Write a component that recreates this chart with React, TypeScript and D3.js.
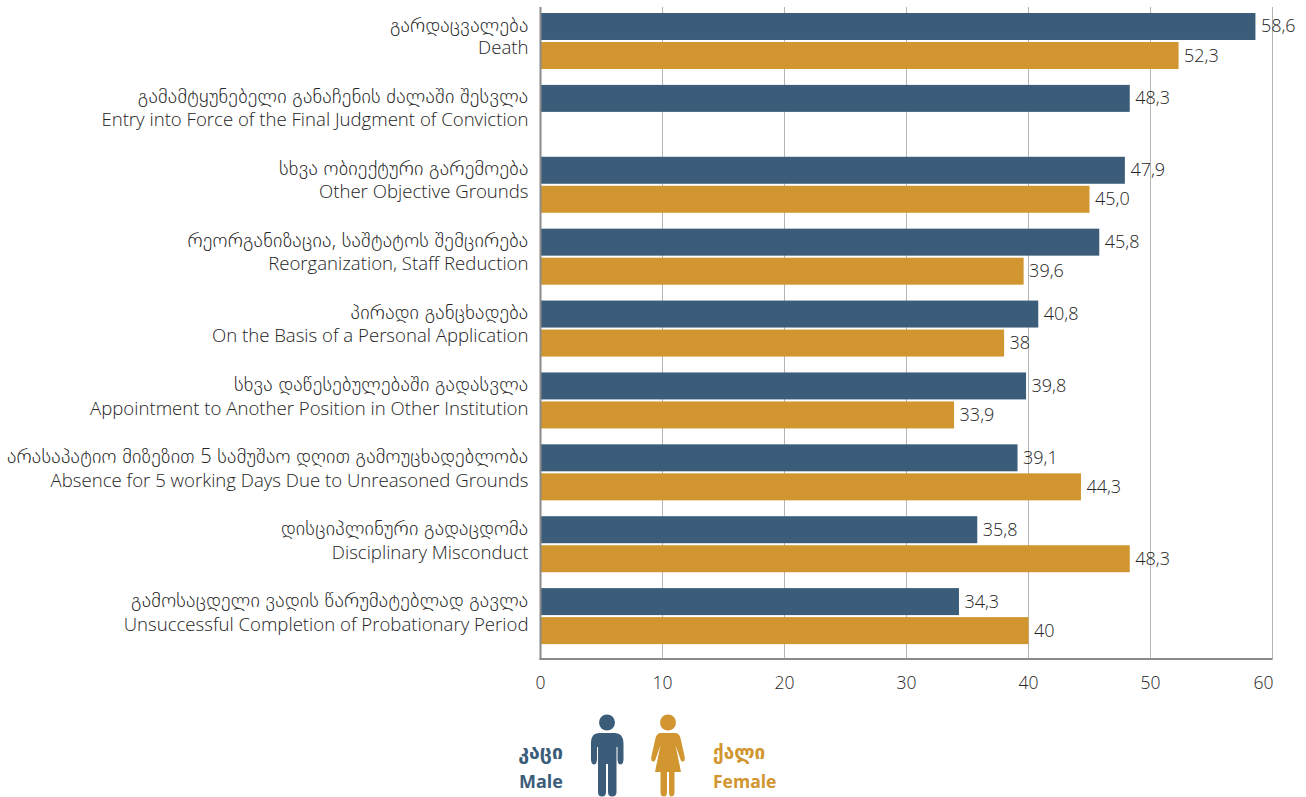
import React from "react";
import * as d3 from "d3";

const categoriesKa = ["გარდაცვალება","გამამტყუნებელი განაჩენის ძალაში შესვლა","სხვა ობიექტური გარემოება","რეორგანიზაცია, საშტატოს შემცირება","პირადი განცხადება","სხვა დაწესებულებაში გადასვლა","არასაპატიო მიზეზით 5 სამუშაო დღით გამოუცხადებლობა","დისციპლინური გადაცდომა","გამოსაცდელი ვადის წარუმატებლად გავლა"];
const categoriesEn = ["Death","Entry into Force of the Final Judgment of Conviction","Other Objective Grounds","Reorganization, Staff Reduction","On the Basis of a Personal Application","Appointment to Another Position in Other Institution","Absence for 5 working Days Due to Unreasoned Grounds","Disciplinary Misconduct","Unsuccessful Completion of Probationary Period"];
const male = [58.6,48.3,47.9,45.8,40.8,39.8,39.1,35.8,34.3];
const female: (number|null)[] = [52.3,null,45.0,39.6,38,33.9,44.3,48.3,40];
const maleLabels = ["58,6","48,3","47,9","45,8","40,8","39,8","39,1","35,8","34,3"];
const femaleLabels = ["52,3","","45,0","39,6","38","33,9","44,3","48,3","40"];
const ticks = [0,10,20,30,40,50,60];
const BLUE = "#3b5d7a", GOLD = "#d1962f", TEXT = "#242424";
const FONT = "'Open Sans','Noto Sans','DejaVu Sans',sans-serif";

export default function App() {
  const x = d3.scaleLinear().domain([0,60]).range([540.5,1272.5]);
  const y = d3.scaleBand<number>().domain(d3.range(9)).range([5,652]);
  const yLabel = d3.scaleBand<number>().domain(d3.range(9)).range([5,654]);
  const inner = d3.scaleBand<string>().domain(["m","f"]).range([8,64]).paddingInner(0.07);
  const bars = (vals:(number|null)[], labels:string[], key:string, color:string) => vals.map((v,i)=> v==null?null:(
    <g key={key+i}>
      <rect x={x(0)} y={y(i)!+inner(key)!} width={x(v)-x(0)} height={inner.bandwidth()} fill={color}/>
      <text x={x(v)+5.5} y={y(i)!+inner(key)!+inner.bandwidth()/2+6} fontSize={18} fill={TEXT} fontWeight={300}>{labels[i]}</text>
    </g>));
  return (
    <svg width={1306} height={797} style={{position:"absolute",left:0,top:0,background:"#fff"}} fontFamily={FONT}>
      {ticks.slice(1).map(t=><line key={t} x1={x(t)} x2={x(t)} y1={7} y2={659} stroke="#b5b5b5" strokeWidth={1}/>)}
      {bars(male,maleLabels,"m",BLUE)}
      {bars(female,femaleLabels,"f",GOLD)}
      <line x1={x(0)} x2={x(0)} y1={7} y2={659.5} stroke="#8a8a8a" strokeWidth={2}/>
      <line x1={x(0)-1} x2={x(60)} y1={659} y2={659} stroke="#8a8a8a" strokeWidth={2}/>
      {ticks.map(t=><text key={t} x={x(t)-(t===60?9:0)} y={689} textAnchor="middle" fontSize={17.5} fill={TEXT} fontWeight={300}>{t}</text>)}
      {categoriesKa.map((c,i)=><text key={c} x={528.5} y={y(i)!+26.5} textAnchor="end" fontSize={20} letterSpacing={0.25} fill={TEXT} fontWeight={300}>{c}</text>)}
      {categoriesEn.map((c,i)=><text key={c} x={528.5} y={yLabel(i)!+49} textAnchor="end" fontSize={18.6} fill={TEXT} fontWeight={300}>{c}</text>)}
      <g fill={BLUE} fontWeight={700} textAnchor="end">
        <text x={563} y={759} fontSize={19.5}>კაცი</text>
        <text x={563} y={788} fontSize={18}>Male</text>
      </g>
      <g fill={GOLD} fontWeight={700}>
        <text x={713} y={759} fontSize={19}>ქალი</text>
        <text x={713} y={788} fontSize={17.5}>Female</text>
      </g>
      <g fill={BLUE}>
        <circle cx={607} cy={722.5} r={8}/>
        <path d="M599 733 H615 Q623 733 623.5 743 V760 Q623 764.5 620.5 764.5 Q618 764.5 617.5 760 V747 H616.5 V792 Q616.5 796.5 612 796.5 Q608 796.5 608 792 V764 H606 V792 Q606 796.5 602 796.5 Q598 796.5 598 792 V747 H597 V760 Q596.5 764.5 594 764.5 Q591.5 764.5 591 760 V743 Q591 733 599 733 Z"/>
      </g>
      <g fill={GOLD}>
        <circle cx={668} cy={722.5} r={8}/>
        <path d="M661 733 H675 Q679 733 680.5 738 L684.5 756 Q685.5 761 683 761.5 Q681 762 680 758 L675.5 745 L681 772 H674.5 V792 Q674.5 796.5 671 796.5 Q669 796.5 669 792 V772 H667 V792 Q667 796.5 664 796.5 Q660.5 796.5 660.5 792 V772 H655 L660.5 745 L656 758 Q655 762 653 761.5 Q650.5 761 651.5 756 L655.5 738 Q657 733 661 733 Z"/>
      </g>
    </svg>
  );
}
